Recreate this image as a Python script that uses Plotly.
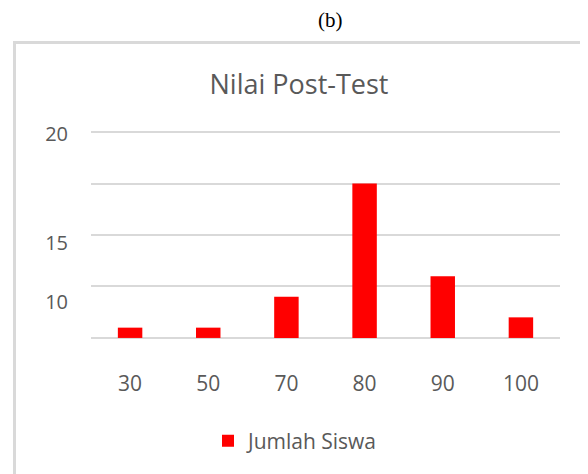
import plotly.graph_objects as go

categories = ["30", "50", "70", "80", "90", "100"]
jumlah_siswa = [1, 1, 4, 15, 6, 2]
grid_vals = [0, 5, 10, 15, 20]
ylabel_vals = [19.8, 9.2, 3.5]
ylabel_text = ["20", "15", "10"]

OFF = 8  # page body margin
W, H = 588, 474
# plot area in screen pixels
pl, pr, pt, pb = 91, 560, 130, 340
pw, ph = pr - pl, pb - pt
ml, mt = pl - OFF, pt - OFF
mr, mb = W - ml - pw, H - mt - ph

def px2paper_x(px):
    return (px - pl) / pw

def px2paper_y(py):
    return (pb - py) / ph

txt = "#595959"
grid = "#d9d9d9"
font = "Open Sans"

fig = go.Figure()
fig.add_trace(go.Bar(
    x=categories, y=jumlah_siswa, name="Jumlah Siswa",
    marker=dict(color="#ff0000", line=dict(width=0)),
    yaxis="y",
))
fig.add_trace(go.Scatter(x=[categories[0]], y=[0], yaxis="y2", mode="markers",
                         marker=dict(opacity=0), showlegend=False, hoverinfo="skip"))

fig.update_layout(
    width=W, height=H,
    margin=dict(l=ml, r=mr, t=mt, b=mb, pad=0),
    paper_bgcolor="white", plot_bgcolor="white",
    bargap=0.687,
    font=dict(family=font, color=txt, size=20),
    title=dict(text="Nilai Post-Test", x=px2paper_x(299), xref="paper", xanchor="center",
               y=1 - (85 - OFF) / H, yanchor="middle", font=dict(family=font, size=27, color=txt)),
    xaxis=dict(showgrid=False, showline=False, ticks="", zeroline=False,
               tickfont=dict(family=font, size=21, color=txt), ticklabelstandoff=29),
    yaxis=dict(range=[-0.2, 20.2], tickvals=grid_vals, showticklabels=False, showgrid=True,
               gridcolor=grid, gridwidth=1.5, zeroline=False, showline=False, ticks=""),
    yaxis2=dict(range=[-0.2, 20.2], overlaying="y", side="left", tickvals=ylabel_vals,
                ticktext=ylabel_text, showgrid=False, zeroline=False, showline=False, ticks="",
                tickfont=dict(family=font, size=20, color=txt), ticklabelstandoff=22),
    showlegend=True,
    legend=dict(orientation="h", x=px2paper_x(296), xanchor="center",
                y=px2paper_y(441), yanchor="middle",
                font=dict(family=font, size=21, color=txt), bgcolor="rgba(0,0,0,0)"),
    annotations=[dict(text="(b)", x=px2paper_x(330), y=px2paper_y(20), xref="paper", yref="paper",
                      showarrow=False, xanchor="center", yanchor="middle",
                      font=dict(family="Liberation Serif", size=21, color="black"))],
    shapes=[
        dict(type="line", xref="paper", yref="paper",
             x0=px2paper_x(14.5), x1=px2paper_x(14.5), y0=px2paper_y(42), y1=px2paper_y(490),
             line=dict(color=grid, width=3)),
        dict(type="line", xref="paper", yref="paper",
             x0=px2paper_x(13), x1=px2paper_x(600), y0=px2paper_y(42.5), y1=px2paper_y(42.5),
             line=dict(color=grid, width=3)),
    ],
)

fig.write_html("out.html")
